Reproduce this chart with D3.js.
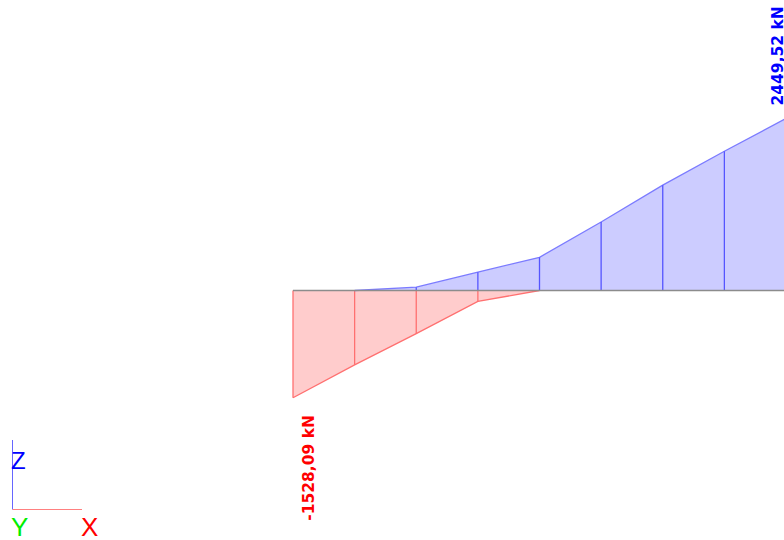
<!DOCTYPE html>
<html>
<head>
<meta charset="utf-8">
<script src="https://cdn.jsdelivr.net/npm/d3@7"></script>
<style>
  html, body { margin: 0; padding: 0; background: #ffffff; }
  svg { display: block; }
</style>
</head>
<body>
<svg id="chart" width="784" height="540"></svg>
<script>
// Stations along the member (index) and force values in kN
const stations = [0, 1, 2, 3, 4, 5, 6, 7, 8];
const negStations = [0, 1, 2, 3, 4];
const negValues = [-1528.09, -1059, -615, -156, 0];
const posStations = [1, 2, 3, 4, 5, 6, 7, 8];
const posValues = [0, 47, 260, 473, 975, 1500, 1983, 2449.52];
const labels = ["-1528,09 kN", "2449,52 kN"];
const axisLabels = ["Z", "Y", "X"];

const svg = d3.select("#chart");

const x = d3.scaleLinear().domain([0, 8]).range([293, 786]);
const y = d3.scaleLinear().domain([0, 2449.52]).range([290.5, 118.5]);

const neg = negStations.map((s, i) => ({ s, v: negValues[i] }));
const pos = posStations.map((s, i) => ({ s, v: posValues[i] }));

const area = d3.area().x(d => x(d.s)).y0(y(0)).y1(d => y(d.v));
const line = d3.line().x(d => x(d.s)).y(d => y(d.v));

// negative (red) region
svg.append("path").datum(neg).attr("d", area)
  .attr("fill", "#ffcccc").attr("stroke", "none");
svg.append("path").datum(neg).attr("d", line)
  .attr("fill", "none").attr("stroke", "#ff7070").attr("stroke-width", 1.3);
svg.selectAll(".negv").data(neg.filter(d => d.v !== 0)).enter().append("line")
  .attr("x1", d => x(d.s)).attr("x2", d => x(d.s))
  .attr("y1", y(0)).attr("y2", d => y(d.v))
  .attr("stroke", "#ff7070").attr("stroke-width", 1.3);

// positive (blue) region
svg.append("path").datum(pos).attr("d", area)
  .attr("fill", "#ccccff").attr("stroke", "none");
svg.append("path").datum(pos).attr("d", line)
  .attr("fill", "none").attr("stroke", "#7b7bff").attr("stroke-width", 1.3);
svg.selectAll(".posv").data(pos.filter(d => d.v !== 0 && d.s < 8)).enter().append("line")
  .attr("x1", d => x(d.s)).attr("x2", d => x(d.s))
  .attr("y1", y(0)).attr("y2", d => y(d.v))
  .attr("stroke", "#5555ff").attr("stroke-width", 1.3);

// member baseline
svg.append("line")
  .attr("x1", x(0)).attr("x2", 784)
  .attr("y1", y(0)).attr("y2", y(0))
  .attr("stroke", "#8c8c8c").attr("stroke-width", 1.3);

// value labels
const fontFam = "'DejaVu Sans', Verdana, sans-serif";
svg.append("text")
  .attr("transform", `translate(${x(0) + 20.5},${y(negValues[0]) + 123}) rotate(-90)`)
  .attr("fill", "#ff0000").attr("font-family", fontFam)
  .attr("font-size", 15.5).attr("font-weight", "bold")
  .text(labels[0]);
svg.append("text")
  .attr("transform", `translate(${x(8) - 3},${y(posValues[7]) - 13}) rotate(-90)`)
  .attr("fill", "#0000ff").attr("font-family", fontFam)
  .attr("font-size", 15.5).attr("font-weight", "bold")
  .text(labels[1]);

// axis triad
svg.append("line").attr("x1", 12.5).attr("x2", 12.5).attr("y1", 440).attr("y2", 509.5)
  .attr("stroke", "#6666ff").attr("stroke-width", 1);
svg.append("line").attr("x1", 12.5).attr("x2", 82).attr("y1", 509.5).attr("y2", 509.5)
  .attr("stroke", "#ff8080").attr("stroke-width", 1);
svg.append("text").attr("x", 11).attr("y", 468.5)
  .attr("fill", "#0000ff").attr("font-family", "'Liberation Sans', Arial, sans-serif")
  .attr("font-size", 24).text(axisLabels[0]);
svg.append("text").attr("x", 11).attr("y", 535.5)
  .attr("fill", "#00ee00").attr("font-family", "'Liberation Sans', Arial, sans-serif")
  .attr("font-size", 26).text(axisLabels[1]);
svg.append("text").attr("x", 81).attr("y", 535.5)
  .attr("fill", "#ff0000").attr("font-family", "'Liberation Sans', Arial, sans-serif")
  .attr("font-size", 26).text(axisLabels[2]);
</script>
</body>
</html>
